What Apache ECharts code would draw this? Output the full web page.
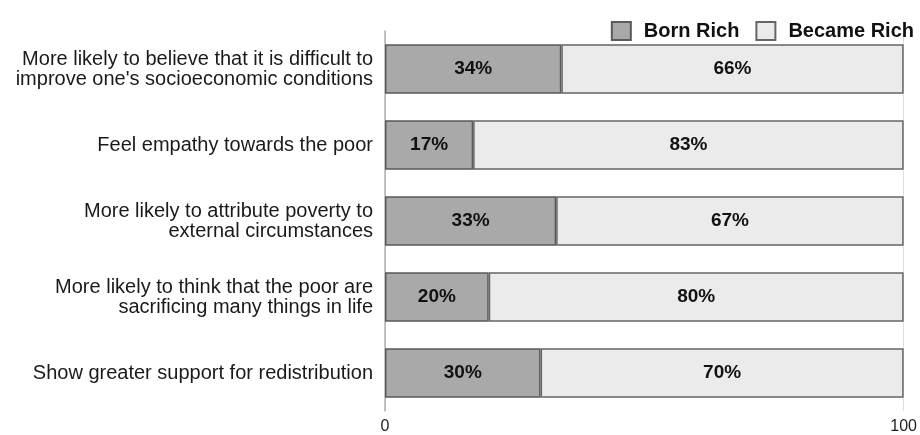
<!DOCTYPE html>
<html><head><meta charset="utf-8">
<script src="https://cdn.jsdelivr.net/npm/echarts@6/dist/echarts.min.js"></script>
<style>html,body{margin:0;padding:0;background:#fff}#c{width:920px;height:435px}</style>
</head><body><div id="c"></div>
<script>
const categories = [
  "More likely to believe that it is difficult to\nimprove one's socioeconomic conditions",
  "Feel empathy towards the poor",
  "More likely to attribute poverty to\nexternal circumstances",
  "More likely to think that the poor are\nsacrificing many things in life",
  "Show greater support for redistribution"
];
const bornRich = [34, 17, 33, 20, 30];
const becameRich = [66, 83, 67, 80, 70];
const seriesNames = ["Born Rich", "Became Rich"];
const xTicks = [0, 100];

const FONT = '"Liberation Sans", Arial, Helvetica, sans-serif';
const chart = echarts.init(document.getElementById('c'), null, {renderer: 'canvas'});
chart.setOption({
  animation: false,
  textStyle: {fontFamily: FONT},
  legend: {
    right: 1, top: 16,
    itemWidth: 19, itemHeight: 18, itemGap: 16,
    textStyle: {fontFamily: FONT, fontSize: 20, fontWeight: 'bold', color: '#111', padding: [0,0,0,8]},
    data: seriesNames.map(n => ({name: n, icon: 'rect'}))
  },
  grid: {left: 385, right: 15, top: 31, bottom: 22, containLabel: false},
  xAxis: {
    type: 'value', min: xTicks[0], max: xTicks[1], interval: 100,
    axisLine: {show: false},
    axisTick: {show: false},
    splitLine: {show: true, lineStyle: {color: '#dedede', width: 1}},
    axisLabel: {color: '#222', fontSize: 16, fontFamily: FONT, margin: 8,
      formatter: v => xTicks.includes(v) ? String(v) : ''}
  },
  yAxis: {
    type: 'category', inverse: true, data: categories,
    axisLine: {show: true, lineStyle: {color: '#b0b0b0', width: 1.5}},
    axisTick: {show: false},
    axisLabel: {color: '#1a1a1a', fontSize: 20, fontFamily: FONT, lineHeight: 20, margin: 12, align: 'right'}
  },
  series: [
    {
      name: seriesNames[0], type: 'bar', stack: 'a', barWidth: '65%',
      data: bornRich,
      itemStyle: {color: '#a9a9a9', borderColor: '#5a5a5a', borderWidth: 1.5},
      label: {show: true, position: 'inside', formatter: '{c}%', color: '#111', fontSize: 19, fontWeight: 'bold', fontFamily: FONT}
    },
    {
      name: seriesNames[1], type: 'bar', stack: 'a', barWidth: '65%',
      data: becameRich,
      itemStyle: {color: '#ebebeb', borderColor: '#666', borderWidth: 1.5},
      label: {show: true, position: 'inside', formatter: '{c}%', color: '#111', fontSize: 19, fontWeight: 'bold', fontFamily: FONT}
    }
  ]
});
</script></body></html>
